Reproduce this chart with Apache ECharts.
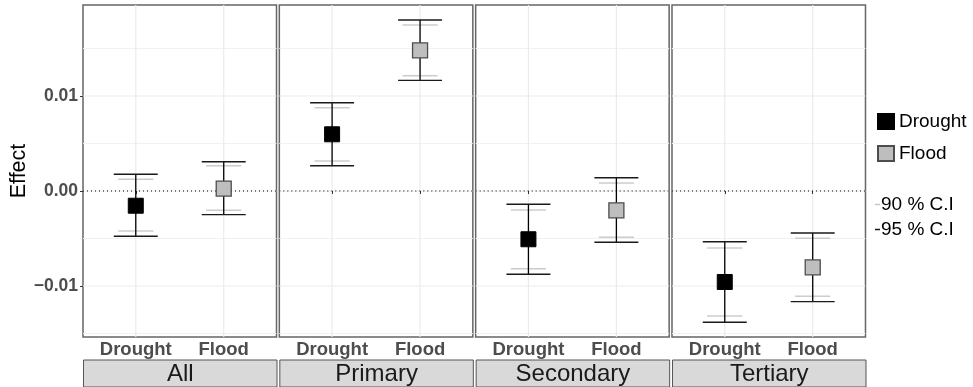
<!DOCTYPE html>
<html>
<head>
<meta charset="utf-8">
<script src="https://cdn.jsdelivr.net/npm/echarts@6/dist/echarts.min.js"></script>
<style>
  html, body { margin: 0; padding: 0; background: #fff; }
  #chart { width: 973px; height: 387px; }
</style>
</head>
<body>
<div id="chart"></div>
<script>
// ---- data ----
const panels = ['All', 'Primary', 'Secondary', 'Tertiary'];
const categories = ['Drought', 'Flood'];
// [panel][category] : Drought, Flood
const est  = [[-0.00155, 0.00026], [0.00597, 0.01481], [-0.00508, -0.00203], [-0.00958, -0.00805]];
const lo95 = [[-0.00477, -0.00249], [0.00266, 0.01165], [-0.00877, -0.00540], [-0.01382, -0.01165]];
const hi95 = [[0.00176, 0.00308], [0.00929, 0.01800], [-0.00140, 0.00140], [-0.00534, -0.00442]];
const lo90 = [[-0.00421, -0.00203], [0.00316, 0.01214], [-0.00818, -0.00487], [-0.01316, -0.01108]];
const hi90 = [[0.00123, 0.00266], [0.00877, 0.01747], [-0.00200, 0.00084], [-0.00600, -0.00498]];
const yTickValues = [-0.01, 0, 0.01];
const yMinorGrid = [-0.015, -0.005, 0.005, 0.015];
const yRange = [-0.01537, 0.01958];

// ---- layout ----
const gridTop = 5, gridHeight = 332, gridWidth = 193.5, gridLeft0 = 83, gridStep = 196.33;
const stripTop = 359.5, stripHeight = 27;
const FONT = 'Liberation Sans, Arial, sans-serif';

function fmtY(v) {
  if (Math.abs(v) < 1e-12) return '0.00';
  const s = Math.abs(v).toFixed(2);
  return v < 0 ? '\u2212' + s : s;
}

function renderGrid(params, api) {
  const cs = params.coordSys;
  const kind = api.value(2);
  if (kind === 2) {
    const p = api.coord([api.value(0), yRange[0]]);
    return { type: 'line', shape: { x1: p[0], y1: cs.y, x2: p[0], y2: cs.y + cs.height },
      style: { stroke: '#ebebeb', lineWidth: 1.2 } };
  }
  const p = api.coord([1, api.value(1)]);
  return { type: 'line', shape: { x1: cs.x, y1: p[1], x2: cs.x + cs.width, y2: p[1] },
    style: { stroke: kind === 0 ? '#ebebeb' : '#f1f1f1', lineWidth: kind === 0 ? 1.2 : 1 } };
}
function renderZero(params, api) {
  const cs = params.coordSys;
  const p = api.coord([1, api.value(1)]);
  return { type: 'line', shape: { x1: cs.x, y1: p[1], x2: cs.x + cs.width, y2: p[1] },
    style: { stroke: '#000', lineWidth: 1, lineDash: [1, 3] } };
}
function renderCI90(params, api) {
  const x = api.value(0);
  const pLo = api.coord([x, api.value(1)]);
  const pHi = api.coord([x, api.value(2)]);
  const hw = api.size([0.4, 0])[0] / 2;
  const st = { stroke: '#cccccc', lineWidth: 1.5 };
  return { type: 'group', children: [
    { type: 'line', shape: { x1: pLo[0] - hw, y1: pLo[1], x2: pLo[0] + hw, y2: pLo[1] }, style: st },
    { type: 'line', shape: { x1: pHi[0] - hw, y1: pHi[1], x2: pHi[0] + hw, y2: pHi[1] }, style: st }
  ]};
}
function renderCI95(params, api) {
  const x = api.value(0);
  const pLo = api.coord([x, api.value(1)]);
  const pHi = api.coord([x, api.value(2)]);
  const hw = api.size([0.5, 0])[0] / 2;
  const st = { stroke: '#1a1a1a', lineWidth: 1.4 };
  return { type: 'group', children: [
    { type: 'line', shape: { x1: pLo[0], y1: pLo[1], x2: pHi[0], y2: pHi[1] }, style: { stroke: '#000', lineWidth: 1.3 } },
    { type: 'line', shape: { x1: pLo[0] - hw, y1: pLo[1], x2: pLo[0] + hw, y2: pLo[1] }, style: st },
    { type: 'line', shape: { x1: pHi[0] - hw, y1: pHi[1], x2: pHi[0] + hw, y2: pHi[1] }, style: st }
  ]};
}

const grids = [], xAxes = [], yAxes = [], series = [], graphics = [];
panels.forEach((name, i) => {
  const left = gridLeft0 + i * gridStep;
  grids.push({ left: left, top: gridTop, width: gridWidth, height: gridHeight,
    show: true, backgroundColor: '#fff', borderColor: '#666', borderWidth: 1.5 });
  xAxes.push({
    type: 'value', gridIndex: i, min: 0.4, max: 2.6,
    axisLine: { show: false },
    splitLine: { show: false },
    axisTick: { show: true, length: 3, customValues: [1, 2], lineStyle: { color: '#333', width: 1 } },
    axisLabel: { customValues: [1, 2], margin: 3, fontSize: 18.5, fontWeight: 'bold', color: '#4d4d4d',
      fontFamily: FONT, formatter: v => categories[Math.round(v) - 1] || '' }
  });
  yAxes.push({
    type: 'value', gridIndex: i, min: yRange[0], max: yRange[1],
    axisLine: { show: false },
    splitLine: { show: false },
    axisTick: { show: i === 0, length: 3, customValues: yTickValues, lineStyle: { color: '#333', width: 1 } },
    axisLabel: { show: i === 0, customValues: yTickValues, margin: 5, fontSize: 17.5, fontWeight: 'bold',
      color: '#4d4d4d', fontFamily: FONT, formatter: fmtY },
    name: i === 0 ? 'Effect' : '',
    nameLocation: 'middle', nameGap: 52, nameRotate: 90,
    nameTextStyle: { fontSize: 21.5, color: '#000', fontFamily: FONT }
  });
  const gridData = [];
  yTickValues.forEach(v => gridData.push([1, v, 0]));
  yMinorGrid.forEach(v => gridData.push([1, v, 1]));
  categories.forEach((c, k) => gridData.push([k + 1, 0, 2]));
  series.push({ type: 'custom', xAxisIndex: i, yAxisIndex: i, z: 0, silent: true,
    renderItem: renderGrid, data: gridData, animation: false });
  series.push({ type: 'custom', xAxisIndex: i, yAxisIndex: i, z: 1, silent: true,
    renderItem: renderZero, data: [[1, 0]], animation: false });
  series.push({ type: 'custom', name: '90 % C.I', xAxisIndex: i, yAxisIndex: i, z: 2, silent: true,
    itemStyle: { color: '#cccccc' },
    renderItem: renderCI90, data: categories.map((c, k) => [k + 1, lo90[i][k], hi90[i][k]]), animation: false });
  series.push({ type: 'custom', name: '95 % C.I', xAxisIndex: i, yAxisIndex: i, z: 3, silent: true,
    itemStyle: { color: '#1a1a1a' },
    renderItem: renderCI95, data: categories.map((c, k) => [k + 1, lo95[i][k], hi95[i][k]]), animation: false });
  series.push({ type: 'scatter', name: 'Drought', xAxisIndex: i, yAxisIndex: i, z: 4, silent: true,
    symbol: 'rect', symbolSize: 15,
    itemStyle: { color: '#000', borderColor: '#000', borderWidth: 1, opacity: 1 },
    data: [[1, est[i][0]]], animation: false });
  series.push({ type: 'scatter', name: 'Flood', xAxisIndex: i, yAxisIndex: i, z: 4, silent: true,
    symbol: 'rect', symbolSize: 15,
    itemStyle: { color: '#bebebe', borderColor: '#4d4d4d', borderWidth: 1.3, opacity: 1 },
    data: [[2, est[i][1]]], animation: false });

  graphics.push({
    type: 'group', left: left, top: stripTop, silent: true,
    children: [
      { type: 'rect', shape: { x: 0, y: 0, width: gridWidth, height: stripHeight },
        style: { fill: '#d9d9d9', stroke: '#555', lineWidth: 1 } },
      { type: 'text', x: gridWidth / 2, y: stripHeight / 2 + 0.5,
        style: { text: name, fontSize: 24, fill: '#1a1a1a', align: 'center', verticalAlign: 'middle',
          fontFamily: FONT } }
    ]
  });
});

const chart = echarts.init(document.getElementById('chart'), null, { renderer: 'canvas' });
chart.setOption({
  animation: false,
  backgroundColor: '#fff',
  grid: grids,
  xAxis: xAxes,
  yAxis: yAxes,
  legend: [
    { data: ['Drought', 'Flood'], orient: 'vertical', left: 877, top: 112, padding: 0,
      itemWidth: 16, itemHeight: 15, itemGap: 13, icon: 'rect', selectedMode: false,
      textStyle: { fontSize: 19, color: '#000', fontFamily: FONT, padding: [0, 0, 0, 0] } },
    { data: [{ name: '90 % C.I', itemStyle: { color: '#c8c8c8' } }, { name: '95 % C.I', itemStyle: { color: '#1a1a1a' } }],
      orient: 'vertical', left: 875, top: 195, padding: 0,
      itemWidth: 5, itemHeight: 1.5, itemGap: 6, icon: 'rect', selectedMode: false,
      textStyle: { fontSize: 19, color: '#000', fontFamily: FONT, padding: [0, 0, 0, -4] } }
  ],
  graphic: graphics,
  series: series
});
</script>
</body>
</html>
